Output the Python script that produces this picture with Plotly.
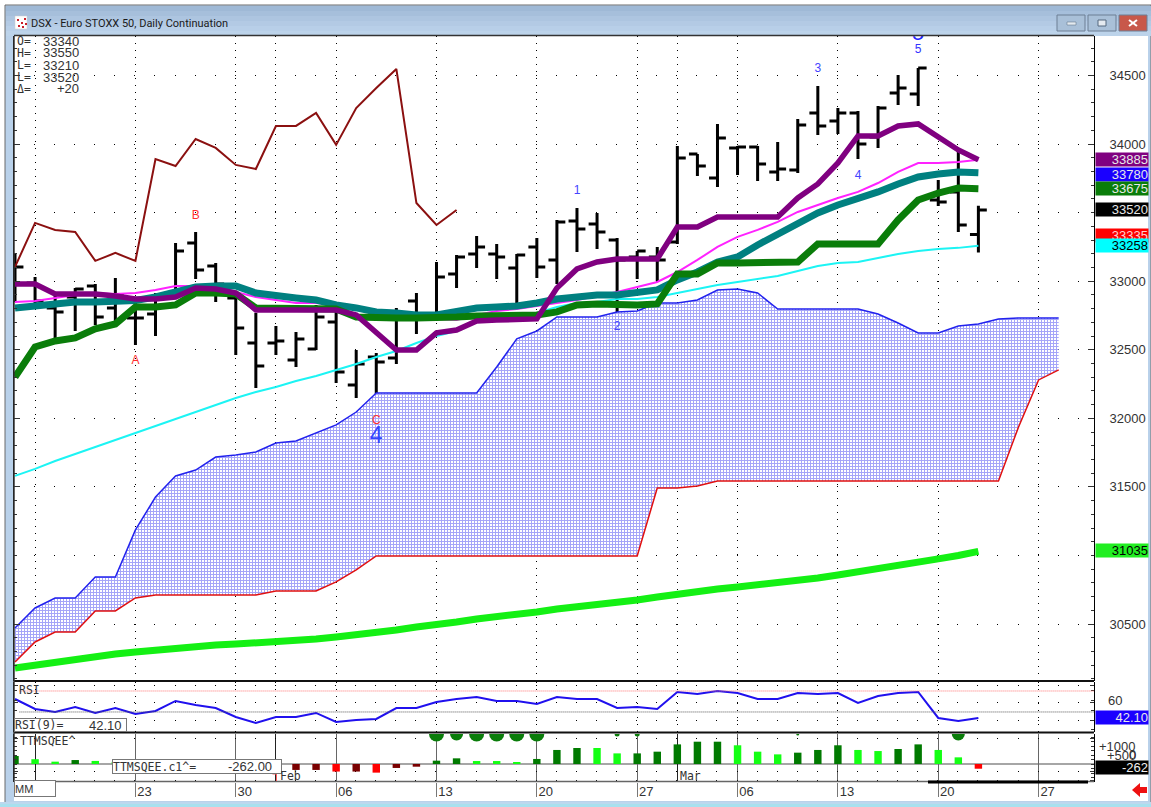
import plotly.graph_objects as go

W, H = 1151, 807
def X(p): return p / W
def Y(p): return 1 - p / H

bar_index = list(range(49))
opens = [33100,32987,32805,32885,32965,32805,32732,32761,32900,33279,33111,32878,32549,32549,32425,32506,32703,32243,32447,32440,32856,32725,33053,33199,33199,33096,33250,33155,33439,33417,33301,33177,33177,33286,33928,33753,33972,33979,33797,33811,34227,34169,34227,34052,34373,34365,33592,33651,33340]
highs = [33199,33031,32914,32951,32980,33024,32856,32914,33279,33359,33133,32900,32768,32673,32630,32827,32805,32498,32477,32805,32914,33140,33191,33330,33272,33199,33315,33447,33534,33498,33315,33220,33250,33986,33928,34147,33986,33986,34015,34183,34424,34263,34241,34278,34504,34555,33738,33972,33550]
lows = [32849,32841,32557,32637,32681,32681,32535,32601,32885,33016,32849,32462,32221,32462,32374,32498,32258,32148,32097,32396,32615,32717,32951,33096,33016,32797,33024,32980,33213,33235,32776,33016,33002,33272,33767,33687,33775,33731,33731,33789,34066,34074,33891,33972,34285,34278,33549,33359,33210]
closes = [33104,32856,32776,32943,32739,32900,32732,32870,33220,33082,32980,32659,32382,32564,32579,32739,32338,32396,32411,32725,32739,33031,33177,33250,33177,33191,33104,33432,33381,33359,33155,33220,33155,33899,33840,34045,33979,33855,33818,34139,34132,34227,34001,34263,34409,34555,33578,33410,33520]

brown = [33104,33425,33374,33359,33148,33206,33148,33891,33840,34037,33972,33848,33818,34132,34132,34227,33994,34263,34409,34548,33570,33410,33519]
purple = [32980,32980,32907,32907,32907,32892,32870,32870,32885,32951,32943,32914,32790,32790,32790,32790,32790,32754,32623,32498,32498,32623,32644,32710,32717,32717,32725,32951,33089,33140,33162,33162,33162,33395,33395,33468,33468,33468,33468,33607,33709,33862,34059,34059,34132,34147,34052,33957,33885]
teal = [32805,32819,32834,32849,32849,32849,32860,32885,32921,32958,32965,32965,32914,32892,32878,32863,32827,32805,32776,32768,32754,32754,32776,32805,32812,32819,32841,32870,32885,32900,32900,32914,32936,33009,33067,33140,33177,33264,33344,33432,33498,33556,33600,33651,33709,33760,33782,33797,33790]
green = [32301,32520,32564,32586,32652,32688,32812,32812,32827,32914,32914,32907,32805,32805,32805,32805,32797,32739,32732,32732,32732,32732,32739,32746,32746,32754,32754,32776,32827,32834,32827,32827,32834,33053,33053,33133,33133,33133,33133,33140,33272,33272,33272,33272,33447,33592,33643,33680,33675]
magenta = [32849,32856,32878,32900,32914,32907,32914,32936,32965,32965,32965,32921,32885,32863,32841,32841,32827,32805,32783,32761,32739,32725,32717,32754,32783,32797,32819,32841,32863,32892,32921,32958,32994,33067,33155,33250,33323,33374,33432,33505,33556,33607,33651,33716,33797,33862,33862,33869,33885]
cyan = [31580,31631,31689,31740,31791,31842,31893,31944,31995,32046,32097,32148,32192,32229,32272,32309,32353,32396,32447,32491,32549,32601,32637,32703,32717,32739,32768,32812,32841,32849,32870,32870,32885,32914,32943,32972,32994,33016,33038,33075,33111,33133,33140,33169,33199,33220,33235,33243,33258]
lime = [30179,30201,30223,30245,30267,30281,30296,30311,30325,30340,30347,30354,30362,30369,30376,30391,30405,30420,30435,30456,30478,30493,30515,30537,30551,30573,30588,30610,30624,30646,30661,30675,30697,30719,30741,30755,30770,30785,30799,30814,30836,30858,30879,30901,30923,30945,30975,31000,31030]

cloud_index = list(range(53))
cloud_upper = [30471,30617,30690,30690,30843,30843,31186,31426,31580,31623,31718,31733,31755,31820,31835,31893,31952,32046,32185,32185,32185,32185,32185,32185,32374,32579,32637,32739,32739,32739,32776,32783,32841,32841,32863,32936,32943,32914,32797,32797,32797,32797,32797,32761,32695,32622,32622,32673,32688,32725,32732,32732,32732]
cloud_lower = [30223,30369,30442,30442,30595,30595,30690,30712,30712,30712,30712,30712,30712,30741,30741,30741,30807,30894,30996,30996,30996,30996,30996,30996,30996,30996,30996,30996,30996,30996,30996,30996,31492,31492,31507,31543,31543,31543,31543,31543,31543,31543,31543,31543,31543,31543,31543,31543,31543,31543,31937,32280,32353]

rsi = [61.7,51.4,48.3,53.5,47.3,52.4,46.2,49.3,59.7,55.5,52.4,43.1,36.9,43.1,43.1,47.3,38,40,41.1,52.4,52.4,58.6,61.7,63.8,59.7,59.7,56.6,63.8,61.7,61.7,52.4,53.5,51.4,69,66.9,70,67.9,61.7,61.7,67.9,66.9,67.9,57.6,64.8,67.9,69,42.1,39,42.1]

ttm = [444,267,130,220,170,120,100,-100,-150,-180,-200,-220,-240,-260,-330,-330,-420,-420,-480,-220,-150,185,315,165,165,110,280,780,890,890,590,590,685,1090,1240,1240,1040,685,535,630,780,1040,780,720,835,1090,780,370,-262]
D, L, R, S = "#007a00", "#14ff14", "#ff0000", "#7a0000"
ttm_colors = [D,L,L,D,L,L,D,S,S,S,S,S,S,S,S,S,R,S,R,S,S,D,D,L,L,L,D,D,D,L,L,D,D,D,D,D,L,L,L,D,D,D,L,L,D,D,L,L,R]

squeeze_index = [21,22,23,24,25,26,30,31,39,47]
squeeze_value = [1667]*10
squeeze_size = [15,13,15,15,15,15,5,5,3,13]

week_index = [6,11,16,21,26,31,36,41,46,51]
week_labels = ["23","30","06","13","20","27","06","13","20","27"]
month_index = [1,13,33]

price_ticks = [30500,31000,31500,32000,32500,33000,33500,34000,34500]
price_labels = ["30500","","31500","32000","32500","33000","","34000","34500"]
price_minor = list(range(30100,34800,100))

wave_index = [6,9,18,28,30,40,42,45]
wave_value = [32418,33476,31981,33658,32666,34548,33767,34686]
wave_text = ["A","B","C","1","2","3","4","5"]
wave_color = ["#ff3030","#ff3030","#ff3030","#4444ff","#4444ff","#4444ff","#4444ff","#3333ff"]

readout_names = ["O=","H=","L=","L=","Δ="]
readout_values = ["33340","33550","33210","33520","+20"]

price_tags = [(33885,"33885","#800080","#e8e8e8"),(33780,"33780","#1a00ff","#e8e8e8"),(33675,"33675","#0a7d0a","#e8e8e8"),
              (33520,"33520","#000000","#e8e8e8"),(33335,"33335","#ff0000","#ffd0d0"),(33258,"33258","#00ffff","#000000"),
              (31035,"31035","#22ee22","#000000")]

FONT = "Liberation Sans"
MONO = "DejaVu Sans Mono"
fig = go.Figure()

# cloud
fig.add_trace(go.Scatter(x=cloud_index, y=cloud_lower, mode="lines", line=dict(color="#e01010", width=1.5), xaxis="x", yaxis="y"))
fig.add_trace(go.Scatter(x=cloud_index, y=cloud_upper, mode="lines", line=dict(color="#2222ee", width=1.5), fill="tonexty",
                         fillcolor="rgba(190,190,240,1)",
                         fillpattern=dict(shape="+", size=3, solidity=0.55, fgcolor="#4a4af2", bgcolor="#ffffff"),
                         xaxis="x", yaxis="y"))
for series, color, width in [(lime, "#14f014", 7), (cyan, "#1cf4f4", 2), (magenta, "#ff22ff", 2),
                             (teal, "#008080", 7), (green, "#0a7d0a", 7), (purple, "#800080", 5.5)]:
    fig.add_trace(go.Scatter(x=bar_index, y=series, mode="lines", line=dict(color=color, width=width), xaxis="x", yaxis="y"))
fig.add_trace(go.Scatter(x=bar_index[:len(brown)], y=brown, mode="lines", line=dict(color="#8b1010", width=2), xaxis="x", yaxis="y"))
fig.add_trace(go.Ohlc(x=bar_index, open=opens, high=highs, low=lows, close=closes, tickwidth=0.42,
                      increasing=dict(line=dict(color="#000000", width=3)),
                      decreasing=dict(line=dict(color="#000000", width=3)), xaxis="x", yaxis="y"))
fig.add_trace(go.Scatter(x=wave_index, y=wave_value, mode="text", text=wave_text,
                         textfont=dict(family=FONT, size=12, color=wave_color), xaxis="x", yaxis="y"))
fig.add_trace(go.Scatter(x=[18], y=[31864], mode="text", text=["4"],
                         textfont=dict(family=FONT, size=23, color="#3344ff"), xaxis="x", yaxis="y"))
fig.add_trace(go.Scatter(x=[45], y=[34716], mode="text", text=["5"], textposition="top center",
                         textfont=dict(family=FONT, size=22, color="#2222ff"), xaxis="x", yaxis="y"))

# RSI
fig.add_trace(go.Scatter(x=bar_index, y=rsi, mode="lines", line=dict(color="#2010ee", width=2), xaxis="x2", yaxis="y2"))

# TTM squeeze
fig.add_trace(go.Bar(x=bar_index, y=ttm, width=0.37, marker=dict(color=ttm_colors, line=dict(width=0)), xaxis="x3", yaxis="y3"))
fig.add_trace(go.Scatter(x=squeeze_index, y=squeeze_value, mode="markers",
                         marker=dict(color="#0a7d0a", size=squeeze_size, opacity=1, line=dict(width=0)), xaxis="x3", yaxis="y3"))

x_common = dict(range=[-0.05, 53.76], tickmode="array", zeroline=False, showline=False)
dots = dict(showgrid=True, griddash="1px,6px", gridcolor="#000000", gridwidth=1)
month_dots = dict(tickvals=month_index, showgrid=True, griddash="1px,6px", gridcolor="#000000", ticks="")

y_line = dict(showline=True, linecolor="#000000", linewidth=1, side="right", zeroline=False,
              griddash="1px,19.07px", gridcolor="#000000", gridwidth=1, showgrid=True, ticks="inside",
              tickcolor="#333333", color="#333333", tickfont=dict(family=FONT, size=13, color="#333333"),
              mirror="ticks", tickmode="array", ticklabelstandoff=12)

fig.update_layout(
    width=W, height=H, margin=dict(l=0, r=0, t=0, b=0), autosize=False, showlegend=False,
    paper_bgcolor="#ffffff", plot_bgcolor="#fdfffb", barmode="overlay", hovermode=False,
    font=dict(family=FONT, size=13, color="#333333"),
    xaxis=dict(domain=[X(14), X(1094)], anchor="y", tickvals=week_index, showticklabels=False, ticks="",
               rangeslider=dict(visible=False), minor=month_dots, **x_common, **dots),
    xaxis2=dict(domain=[X(14), X(1094)], anchor="y2", matches="x", tickvals=week_index, showticklabels=False, ticks="",
                minor=month_dots, **x_common, **dots),
    xaxis3=dict(domain=[X(14), X(1094)], anchor="y3", matches="x", tickvals=week_index, ticktext=week_labels,
                showticklabels=True, ticks="outside", ticklen=14, tickcolor="#777777", ticklabelshift=9, ticklabelstandoff=-17,
                tickfont=dict(family=FONT, size=13, color="#333333"),
                showgrid=True, gridcolor="#666666", gridwidth=1,
                minor=dict(tickvals=month_index, showgrid=True, gridcolor="#222222", gridwidth=1, ticks=""), **x_common),
    yaxis=dict(domain=[Y(681), Y(36)], anchor="x", range=[30084.5, 34788], tickvals=price_ticks, ticktext=price_labels, ticklen=6,
               minor=dict(tickvals=price_minor, ticks="inside", ticklen=3, tickcolor="#333333", showgrid=False), **y_line),
    yaxis2=dict(domain=[Y(732), Y(682)], anchor="x2", range=[27.6, 79.3], tickvals=[75.2,57.6,40], ticktext=["","",""], ticklen=4,
                minor=dict(dtick=10, ticks="inside", ticklen=3, tickcolor="#333333", showgrid=False), **y_line),
    yaxis3=dict(domain=[Y(782), Y(734)], anchor="x3", range=[-1000, 1667], tickvals=[1390,-444,-889], ticktext=["","",""], ticklen=4,
                minor=dict(dtick=250, ticks="inside", ticklen=3, tickcolor="#333333", showgrid=False), **y_line),
)

shapes = []
def rect(x0, y0, x1, y1, fill, line=None, lw=0, layer="above"):
    shapes.append(dict(type="rect", xref="paper", yref="paper", x0=X(x0), x1=X(x1), y0=Y(y0), y1=Y(y1),
                       fillcolor=fill, line=dict(color=line or fill, width=lw), layer=layer))
def hline(y, x0, x1, color, lw):
    shapes.append(dict(type="line", xref="paper", yref="paper", x0=X(x0), x1=X(x1), y0=Y(y), y1=Y(y),
                       line=dict(color=color, width=lw), layer="above"))

# window frame
rect(5, 5, 1151, 807, "#b9d1ea", "#6a6a6a", 1, "below")
for k, c in enumerate(["#9fb9d6", "#a6bfdb", "#adc5e0", "#b3cae4", "#b8cfe8", "#bcd3ea"]):
    rect(6, 6 + k * 5, 1151, 11 + k * 5, c, layer="below")
rect(14, 36, 1148, 801, "#ffffff", layer="below")
rect(0, 802, 1151, 807, "#bcd8ee", layer="below")
rect(0, 804, 1151, 807, "#a8e0ee", layer="below")
hline(35.5, 14, 1094, "#333333", 1.5)
hline(681, 14, 1094, "#111111", 2)
hline(732.5, 14, 1094, "#111111", 2)
hline(781.5, 14, 1094, "#666666", 1.5)
hline(782, 928, 1088, "#000000", 3)
shapes.append(dict(type="line", xref="paper", yref="paper", x0=X(14), x1=X(14), y0=Y(36), y1=Y(782), line=dict(color="#333333", width=1.5), layer="above"))
# window buttons
for x0, x1, c in [(1057, 1085, "#a9c0d8"), (1088, 1116, "#a9c0d8"), (1119, 1147, "#c8584a")]:
    rect(x0, 15, x1, 31, c, "#6d7f94", 1, "below")
rect(1067, 22, 1076, 25, "#e4eaf0", "#55697f", 0.5, "below")
rect(1098, 20, 1106, 26, "#e4eaf0", "#55697f", 1, "below")
shapes.append(dict(type="line", xref="paper", yref="paper", x0=X(1129), x1=X(1137), y0=Y(20), y1=Y(26), line=dict(color="#ffffff", width=2), layer="below"))
shapes.append(dict(type="line", xref="paper", yref="paper", x0=X(1129), x1=X(1137), y0=Y(26), y1=Y(20), line=dict(color="#ffffff", width=2), layer="below"))
# title icon
rect(15, 16, 27, 29, "#ffffff", "#cccccc", 0.5, "below")
for px, py in [(17, 19), (21, 22), (24, 18), (18, 25), (22, 26), (25, 23)]:
    rect(px, py, px + 2, py + 2, "#c8202a", layer="below")
# reference levels in RSI
for lvl, c in [(70, "#ff7070"), (48.3, "#555555")]:
    shapes.append(dict(type="line", xref="x2 domain", yref="y2", x0=0.005, x1=1, y0=lvl, y1=lvl,
                       line=dict(color=c, width=1, dash="1px,1px"), layer="above"))
# zero line in TTM
shapes.append(dict(type="line", xref="x3 domain", yref="y3", x0=0, x1=1, y0=0, y1=0,
                   line=dict(color="#888888", width=1.5), layer="below"))
# Feb marker
shapes.append(dict(type="line", xref="paper", yref="paper", x0=X(272.5), x1=X(277), y0=Y(774), y1=Y(774), line=dict(color="#ff6060", width=1), layer="above"))
shapes.append(dict(type="line", xref="paper", yref="paper", x0=X(276.5), x1=X(276.5), y0=Y(774), y1=Y(781), line=dict(color="#ff6060", width=1), layer="above"))
# exit arrow
def P(pts):
    return "M " + " L ".join(f"{X(a):.5f},{Y(b):.5f}" for a, b in pts) + " Z"
shapes.append(dict(type="path", xref="paper", yref="paper", fillcolor="#ee1111", line=dict(width=0), layer="above",
                   path=P([(1132, 790), (1140, 783), (1140, 787), (1147, 787), (1147, 793), (1140, 793), (1140, 797)])))
fig.update_layout(shapes=shapes)

ann = []
def note(px, py, text, size=12.5, color="#333333", anchor="left", family=FONT, **kw):
    ann.append(dict(xref="paper", yref="paper", x=X(px), y=Y(py), text=text, showarrow=False, xanchor=anchor, yanchor="middle",
                    font=dict(family=family, size=size, color=color), **kw))

note(29, 23, "DSX - Euro STOXX 50, Daily Continuation", size=11, color="#1a1a1a", family="Roboto")
for k, (nm, val) in enumerate(zip(readout_names, readout_values)):
    note(15, 41 + k * 12, nm, size=11.5, family=MONO)
    note(81, 41 + k * 12, val, size=13, anchor="right")

ann.append(dict(xref="paper", yref="y3", x=X(1138), y=0, text="0", showarrow=False, xanchor="right", yanchor="bottom",
                font=dict(family=FONT, size=13, color="#333333")))
for val, text, bg, fg in price_tags:
    ann.append(dict(xref="paper", yref="y", x=X(1095), y=val, text=text, showarrow=False, xanchor="left", yanchor="middle",
                    width=52, height=13, align="right", bgcolor=bg, borderpad=0, font=dict(family=FONT, size=13, color=fg)))
for v, t in [(1000, "+1000"), (500, "+500")]:
    ann.append(dict(xref="paper", yref="y3", x=X(1138), y=v, text=t, showarrow=False, xanchor="right", yanchor="middle",
                    font=dict(family=FONT, size=13, color="#333333")))
ann.append(dict(xref="paper", yref="y2", x=X(1124), y=60, text="60", showarrow=False, xanchor="right", yanchor="middle",
                font=dict(family=FONT, size=13, color="#333333")))
ann.append(dict(xref="paper", yref="y2", x=X(1095), y=42.1, text="42.10", showarrow=False, xanchor="left", yanchor="middle",
                width=52, height=13, align="right", bgcolor="#1a00ff", borderpad=0, font=dict(family=FONT, size=13, color="#e8e8e8")))
ann.append(dict(xref="paper", yref="y3", x=X(1095), y=-170, text="-262", showarrow=False, xanchor="left", yanchor="middle",
                width=52, height=13, align="right", bgcolor="#000000", borderpad=0, font=dict(family=FONT, size=13, color="#f0f0f0")))
note(17, 690, "RSI", size=11.5, family=MONO)
note(18, 741, "TTMSQEE^", size=11.5, family=MONO)
ann.append(dict(xref="paper", yref="paper", x=X(14), y=Y(725), text="RSI(9)=", showarrow=False, xanchor="left", yanchor="middle",
                width=111, height=12, align="left", bgcolor="#ffffff", bordercolor="#777777", borderwidth=1, borderpad=0,
                font=dict(family=MONO, size=11.5, color="#333333")))
note(124, 725, "42.10", size=13, anchor="right")
ann.append(dict(xref="paper", yref="paper", x=X(112), y=Y(766), text="TTMSQEE.c1^=", showarrow=False, xanchor="left", yanchor="middle",
                width=168, height=13, align="left", bgcolor="#ffffff", bordercolor="#777777", borderwidth=1, borderpad=0,
                font=dict(family=MONO, size=11.5, color="#333333")))
note(274, 766, "-262.00", size=13, anchor="right")
ann.append(dict(xref="paper", yref="paper", x=X(14), y=Y(788), text="MM", showarrow=False, xanchor="left", yanchor="middle",
                width=40, height=15, align="left", bgcolor="#ffffff", bordercolor="#777777", borderwidth=1, borderpad=0,
                font=dict(family=FONT, size=11, color="#333333")))
note(278, 776, "Feb", size=11.5, family=MONO)
note(678, 776, "Mar", size=11.5, family=MONO)
fig.update_layout(annotations=ann)

fig.write_html("out.html", config=dict(displayModeBar=False), post_script="document.body.style.margin='0';")
